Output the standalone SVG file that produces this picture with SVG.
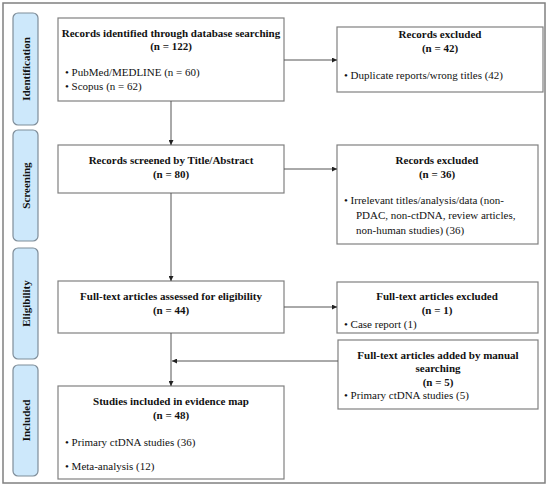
<svg xmlns="http://www.w3.org/2000/svg" width="550" height="487" viewBox="0 0 550 487" font-family="'Liberation Serif', 'Times New Roman', Times, serif">
<defs>
<marker id="ah" viewBox="0 0 8 8" refX="8" refY="4" markerWidth="5" markerHeight="5" orient="auto" markerUnits="userSpaceOnUse">
<path d="M0,0 L8,4 L0,8 Z" fill="#222"/>
</marker>
</defs>
<style>
.box{fill:#fff;stroke:#808080;stroke-width:1.2}
.side{fill:#cde8fb;stroke:#7f8d99;stroke-width:1.2}
.t{font-family:'Liberation Serif','Times New Roman',Times,serif;font-size:11px;fill:#111}
.b{font-weight:bold}
.c{text-anchor:middle}
.conn{stroke:#555;stroke-width:1;fill:none;marker-end:url(#ah)}
</style>
<rect x="0" y="0" width="550" height="487" fill="#fff"/>
<rect x="3" y="3" width="542" height="480" fill="#fff" stroke="#808080" stroke-width="1.5"/>

<g id="side-identification">
<rect class="side" x="13" y="13" width="25" height="112" rx="5"/>
<text class="t b c" transform="translate(29.5,69) rotate(-90)">Identification</text>
</g>
<g id="side-screening">
<rect class="side" x="13" y="130" width="25" height="111" rx="5"/>
<text class="t b c" transform="translate(29.5,185.5) rotate(-90)">Screening</text>
</g>
<g id="side-eligibility">
<rect class="side" x="13" y="248" width="25" height="111" rx="5"/>
<text class="t b c" transform="translate(29.5,303.5) rotate(-90)">Eligibility</text>
</g>
<g id="side-included">
<rect class="side" x="13" y="365" width="25" height="111" rx="5"/>
<text class="t b c" transform="translate(29.5,420.5) rotate(-90)">Included</text>
</g>

<g id="identified">
<rect class="box" x="58" y="18" width="226" height="83"/>
<text class="t b c" x="171" y="37">Records identified through database searching</text>
<text class="t b c" x="171" y="50">(n = 122)</text>
<text class="t" x="65" y="76">•  PubMed/MEDLINE (n = 60)</text>
<text class="t" x="65" y="90">•  Scopus (n = 62)</text>
</g>
<g id="excluded1">
<rect class="box" x="337" y="27" width="206" height="65"/>
<text class="t b c" x="440" y="38">Records excluded</text>
<text class="t b c" x="440" y="52">(n = 42)</text>
<text class="t" x="344" y="79">• Duplicate reports/wrong titles (42)</text>
</g>
<g id="screened">
<rect class="box" x="58" y="145" width="226" height="48"/>
<text class="t b c" x="171" y="164">Records screened by Title/Abstract</text>
<text class="t b c" x="171" y="178">(n = 80)</text>
</g>
<g id="excluded2">
<rect class="box" x="337" y="145" width="201" height="99"/>
<text class="t b c" x="437" y="164">Records excluded</text>
<text class="t b c" x="437" y="178">(n = 36)</text>
<text class="t" x="344" y="204">•  Irrelevant titles/analysis/data (non-</text>
<text class="t" x="356" y="219">PDAC, non-ctDNA, review articles,</text>
<text class="t" x="356" y="234">non-human studies) (36)</text>
</g>
<g id="assessed">
<rect class="box" x="58" y="281" width="226" height="52"/>
<text class="t b c" x="171" y="300">Full-text articles assessed for eligibility</text>
<text class="t b c" x="171" y="314">(n = 44)</text>
</g>
<g id="excluded3">
<rect class="box" x="337" y="282" width="201" height="51"/>
<text class="t b c" x="437" y="300">Full-text articles excluded</text>
<text class="t b c" x="437" y="314">(n = 1)</text>
<text class="t" x="344" y="328">• Case report (1)</text>
</g>
<g id="manual">
<rect class="box" x="338" y="340" width="200" height="69"/>
<text class="t b c" x="438" y="359">Full-text articles added by manual</text>
<text class="t b c" x="438" y="372">searching</text>
<text class="t b c" x="438" y="386">(n = 5)</text>
<text class="t" x="344" y="399">• Primary ctDNA studies (5)</text>
</g>
<g id="included">
<rect class="box" x="58" y="386" width="226" height="93"/>
<text class="t b c" x="171" y="405">Studies included in evidence map</text>
<text class="t b c" x="171" y="419">(n = 48)</text>
<text class="t" x="65" y="446">• Primary ctDNA studies (36)</text>
<text class="t" x="65" y="470">• Meta-analysis (12)</text>
</g>

<g id="connectors">
<line class="conn" x1="171" y1="101" x2="171" y2="145"/>
<line class="conn" x1="171" y1="193" x2="171" y2="281"/>
<line class="conn" x1="171" y1="333" x2="171" y2="386"/>
<line class="conn" x1="284" y1="60" x2="337" y2="60"/>
<line class="conn" x1="284" y1="169" x2="337" y2="169"/>
<line class="conn" x1="284" y1="307" x2="337" y2="307"/>
<line class="conn" x1="338" y1="361" x2="172" y2="361"/>
</g>
</svg>
